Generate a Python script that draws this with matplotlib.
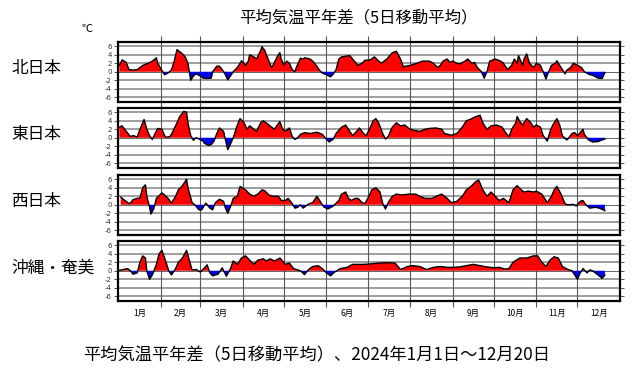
import numpy as np
import matplotlib
matplotlib.use("Agg")
import matplotlib.pyplot as plt

plt.rcParams['font.family'] = ['Noto Sans CJK JP', 'DejaVu Sans']

# 5-day running mean of temperature anomaly, (day of 2024 from Jan 1, degC)
north = [(1, 1.5), (3, 2.8), (6, 2.2), (8, 0.5), (11, 0.4), (14, 0.5), (16, 1.0), (18, 1.5), (22, 2.0),
         (25, 2.5), (27, 3.0), (28, 3.3), (29, 2.0), (32, 0.3), (34, -0.7), (37, -0.2), (39, 0.5), (41, 2.5),
         (43, 5.2), (46, 4.5), (49, 3.5), (51, 2.0), (52, 0.0), (53, -2.0), (55, -1.0), (57, -0.5), (60, -1.0),
         (62, -1.5), (65, -1.6), (68, -1.5), (69, 0.0), (72, 1.3), (74, 1.3), (76, 0.5), (78, -0.5), (80, -1.9),
         (82, -1.0), (84, 0.0), (87, 1.0), (89, 2.0), (90, 2.6), (93, 1.5), (95, 2.5), (96, 4.0), (99, 3.5),
         (101, 3.0), (104, 5.0), (105, 5.9), (107, 5.0), (110, 2.5), (112, 1.0), (113, 1.5), (116, 3.5),
         (118, 4.5), (119, 3.0), (121, 1.5), (123, 2.5), (125, 2.0), (127, 0.5), (129, 0.0), (130, 1.0),
         (133, 3.2), (135, 3.0), (136, 3.3), (140, 3.0), (142, 2.5), (145, 1.3), (147, 0.3), (149, -0.3),
         (152, -0.7), (155, -1.2), (157, -0.5), (159, 0.5), (161, 3.0), (163, 3.5), (169, 3.8), (171, 3.0),
         (175, 1.5), (178, 2.0), (180, 2.7), (184, 2.8), (187, 3.5), (190, 2.5), (192, 2.0), (196, 3.0),
         (200, 4.5), (203, 4.8), (206, 3.0), (208, 1.2), (213, 1.5), (218, 2.0), (222, 2.5), (227, 2.5),
         (230, 2.0), (233, 1.0), (235, 1.5), (237, 2.5), (240, 3.0), (242, 2.2), (244, 2.5), (247, 2.0),
         (249, 1.8), (253, 2.5), (255, 3.0), (258, 2.0), (260, 2.2), (262, 1.0), (265, 0.0), (267, -1.5),
         (269, 0.0), (271, 2.5), (275, 3.0), (279, 2.5), (281, 2.0), (284, 0.5), (287, 1.5), (289, 3.0),
         (291, 2.0), (292, 3.8), (295, 1.5), (296, 3.0), (298, 4.2), (300, 2.0), (303, 1.0), (305, 2.0),
         (308, 1.5), (310, 0.0), (312, -1.7), (314, 0.0), (316, 1.5), (319, 2.0), (320, 2.6), (322, 1.5),
         (324, 0.5), (326, -0.5), (327, 0.3), (330, 1.0), (332, 2.0), (335, 1.5), (338, 1.0), (340, 0.0),
         (344, -0.7), (346, -0.8), (350, -1.5), (353, -1.6), (355, -0.2)]

east = [(1, 2.5), (3, 2.8), (6, 1.5), (9, 0.3), (11, 0.5), (14, 0.2), (16, 2.0), (19, 4.3), (21, 2.0),
        (23, 0.5), (25, -0.4), (27, 1.0), (29, 2.2), (32, 2.0), (34, 0.5), (35, 0.1), (38, 0.3), (40, 1.5),
        (43, 3.5), (45, 5.0), (48, 6.2), (50, 6.0), (51, 3.5), (53, 0.5), (55, -0.6), (57, 0.0), (59, -0.3),
        (62, -0.8), (63, -1.3), (66, -1.8), (68, -1.6), (70, -0.8), (72, 1.0), (74, 2.3), (77, 1.5), (78, 0.0),
        (80, -2.8), (82, -1.5), (84, 0.0), (87, 3.0), (89, 4.5), (92, 3.5), (94, 2.0), (96, 2.8), (99, 2.0),
        (101, 1.5), (104, 3.5), (106, 4.0), (108, 3.5), (112, 2.5), (114, 2.0), (118, 3.8), (120, 2.0),
        (122, 1.5), (125, 2.3), (127, 0.3), (129, -0.4), (131, 0.0), (133, 0.8), (136, 1.2), (140, 1.0),
        (145, 1.3), (149, 0.8), (151, 0.0), (154, -1.0), (157, -0.3), (159, 1.0), (163, 2.5), (166, 3.0),
        (168, 2.0), (171, 0.5), (174, 1.5), (176, 2.3), (179, 1.0), (181, 0.5), (184, 2.5), (186, 4.0),
        (188, 4.5), (190, 3.5), (193, 1.0), (195, -0.3), (197, 0.3), (200, 2.5), (203, 3.5), (206, 2.8),
        (209, 3.0), (212, 2.2), (215, 1.8), (220, 1.5), (224, 2.0), (227, 2.2), (232, 2.3), (236, 2.0),
        (238, 1.0), (243, 0.6), (247, 1.0), (251, 2.5), (254, 4.0), (258, 4.5), (261, 5.0), (264, 5.3),
        (266, 3.5), (269, 2.0), (272, 2.8), (276, 3.0), (280, 2.5), (282, 1.5), (285, 0.2), (287, 2.0),
        (290, 3.5), (291, 5.0), (293, 3.8), (295, 3.0), (298, 4.5), (301, 3.5), (303, 2.5), (305, 3.0),
        (308, 2.5), (310, 0.5), (313, -0.8), (315, 1.5), (317, 3.0), (320, 4.5), (322, 3.0), (324, 0.5),
        (327, -0.5), (328, -0.3), (331, 1.0), (333, 1.2), (335, 0.5), (339, 2.0), (340, 0.8), (343, -0.5),
        (346, -1.0), (350, -0.9), (353, -0.5), (355, -0.3)]

west = [(2, 1.8), (5, 1.0), (8, 0.3), (9, 0.4), (11, 1.2), (14, 1.5), (16, 1.6), (18, 4.0), (20, 4.7),
        (21, 2.0), (23, -0.5), (24, -2.2), (26, -1.0), (28, 1.5), (32, 2.8), (34, 2.3), (37, 1.3), (39, 0.4),
        (42, 2.0), (44, 3.5), (47, 4.5), (50, 6.0), (51, 4.0), (54, 0.5), (56, 0.0), (59, -1.2), (61, -1.2),
        (64, 0.4), (67, -0.8), (69, -1.2), (71, 0.5), (74, 1.3), (77, 0.8), (78, -0.5), (80, -2.0), (82, -0.5),
        (84, 1.5), (87, 2.0), (89, 4.3), (93, 3.5), (96, 2.5), (99, 2.0), (102, 2.5), (105, 3.5), (107, 3.3),
        (110, 2.3), (113, 2.0), (117, 2.0), (119, 1.0), (122, 1.0), (124, 1.5), (127, 0.3), (129, -0.8),
        (131, -0.6), (133, 0.0), (135, -0.8), (139, 0.2), (142, 0.5), (145, 2.0), (147, 1.0), (150, -0.5),
        (153, -1.0), (157, -0.3), (161, 1.0), (163, 2.5), (166, 3.0), (168, 1.5), (170, 1.0), (173, 1.5),
        (175, 1.5), (178, 0.5), (180, 0.3), (183, 2.0), (185, 3.5), (188, 4.0), (191, 3.0), (193, 0.3),
        (195, -1.0), (197, 0.5), (200, 2.0), (203, 2.5), (207, 2.3), (212, 2.5), (217, 2.5), (220, 2.0),
        (224, 1.5), (229, 1.5), (232, 2.0), (236, 2.5), (240, 1.5), (243, 0.5), (247, 0.8), (251, 2.0),
        (254, 3.5), (258, 4.5), (261, 5.5), (263, 5.8), (266, 3.5), (269, 2.0), (272, 3.0), (275, 2.0),
        (278, 1.0), (281, 1.5), (285, 0.5), (288, 3.5), (291, 4.5), (294, 3.5), (296, 3.0), (299, 3.2),
        (303, 3.0), (305, 3.2), (309, 2.5), (313, 0.5), (316, 2.0), (318, 3.5), (320, 4.3), (323, 2.5),
        (326, 0.2), (328, 0.0), (332, 0.1), (334, -0.3), (337, 0.8), (339, 1.0), (341, 0.0), (344, -0.8),
        (348, -0.6), (351, -0.8), (355, -1.4)]

okinawa = [(1, 0.1), (4, 0.3), (7, 0.5), (9, 0.0), (11, -0.8), (14, -0.5), (16, 2.0), (18, 3.5), (20, 3.0),
           (21, 0.0), (23, -2.0), (25, -1.0), (28, 1.5), (30, 4.0), (32, 4.8), (34, 3.0), (37, 0.0), (39, -1.0),
           (42, 0.5), (44, 2.0), (47, 3.0), (50, 4.8), (52, 2.5), (54, 0.2), (57, 0.3), (60, -0.3), (62, 0.3),
           (65, 1.4), (67, -0.5), (69, -1.2), (73, -0.8), (76, 0.7), (77, 0.0), (79, -1.3), (82, 0.5), (84, 2.3),
           (87, 1.5), (90, 3.0), (93, 3.5), (96, 2.5), (99, 1.5), (102, 2.5), (106, 2.8), (108, 2.3), (111, 2.8),
           (114, 2.3), (118, 3.0), (122, 1.5), (125, 1.8), (128, 0.5), (131, 0.2), (133, 0.0), (136, -0.9),
           (139, 0.3), (142, 1.0), (146, 1.2), (149, 0.5), (152, -0.5), (155, -1.2), (158, -0.3), (162, 0.5),
           (167, 0.8), (171, 1.5), (178, 1.5), (184, 1.6), (190, 1.8), (196, 1.9), (202, 1.8), (206, 0.3),
           (211, 1.0), (215, 1.2), (220, 1.0), (225, 0.3), (230, 0.8), (235, 1.0), (240, 0.8), (244, 0.8),
           (249, 0.9), (254, 1.2), (259, 1.5), (264, 1.2), (269, 0.9), (274, 0.7), (278, 0.8), (282, 0.4),
           (285, 0.5), (288, 2.0), (293, 3.0), (298, 3.0), (303, 3.5), (306, 3.5), (309, 2.0), (312, 1.0),
           (315, 2.5), (318, 3.3), (321, 3.0), (324, 1.0), (328, 0.3), (331, 0.0), (333, -1.0), (335, -2.0),
           (337, -0.5), (339, 0.5), (342, -0.5), (344, 0.2), (346, 0.0), (350, -1.0), (353, -1.8), (355, -1.0)]

regions = ['北日本', '東日本', '西日本', '沖縄・奄美']
series = [north, east, west, okinawa]
month_starts = [0, 31, 60, 91, 121, 152, 182, 213, 244, 274, 305, 335, 366]
month_labels = ['%d月' % m for m in range(1, 13)]
yticks = [6, 4, 2, 0, -2, -4, -6]

W, H = 633, 373
fig = plt.figure(figsize=(W / 100, H / 100), dpi=100)

left, right = 118, 620
tops = [42, 108, 175, 241]
ph = 59.5

for i, (name, data) in enumerate(zip(regions, series)):
    top = tops[i]
    ax = fig.add_axes([left / W, 1 - (top + ph) / H, (right - left) / W, ph / H])
    d = np.array(data)
    x, y = d[:, 0], d[:, 1]

    for g in [-6, -4, -2, 2, 4, 6]:
        ax.axhline(g, color='#969696', lw=1.3, zorder=1)
    ax.axhline(0, color='#666666', lw=0.7, zorder=1)
    for m in month_starts[1:-1]:
        ax.axvline(m, color='#555555', lw=0.8, zorder=1)

    ax.fill_between(x, y, 0, where=y >= 0, interpolate=True, color='#ff0000', lw=0, zorder=2)
    ax.fill_between(x, y, 0, where=y <= 0, interpolate=True, color='#0000ee', lw=0, zorder=2)
    ax.plot(x, y, color='black', lw=1.0, zorder=3)

    ax.set_xlim(0, 366)
    ax.set_ylim(-7, 7)
    ax.set_yticks(yticks)
    ax.set_yticklabels([str(v) for v in yticks], fontsize=5, family='DejaVu Sans')
    ax.tick_params(axis='y', which='major', direction='out', length=3, width=0.6,
                   right=True, pad=1.5, colors='#333333')
    ax.set_xticks(month_starts[1:-1])
    ax.set_xticklabels([])
    ax.tick_params(axis='x', which='major', direction='out', length=4.5, width=0.8,
                   top=True, bottom=True, colors='#555555')
    if i == len(regions) - 1:
        mids = [(month_starts[k] + month_starts[k + 1]) / 2 for k in range(12)]
        ax.set_xticks(mids, minor=True)
        ax.set_xticklabels(month_labels, minor=True, fontsize=6)
        ax.tick_params(axis='x', which='minor', length=0, pad=6)
    for s in ax.spines.values():
        s.set_linewidth(1.6)
        s.set_color('black')

    fig.text(11 / W, 1 - (top + ph / 2 - 3) / H, name, fontsize=12, ha='left', va='center')

fig.text(358 / W, 1 - 18 / H, '平均気温平年差（5日移動平均）', fontsize=11.8, ha='center', va='center')
fig.text(87 / W, 1 - 29 / H, '℃', fontsize=8, ha='center', va='center')
fig.text(317 / W, 1 - 355 / H, '平均気温平年差（5日移動平均）、2024年1月1日～12月20日',
         fontsize=12.4, ha='center', va='center')

fig.savefig('out.png', dpi=100)
